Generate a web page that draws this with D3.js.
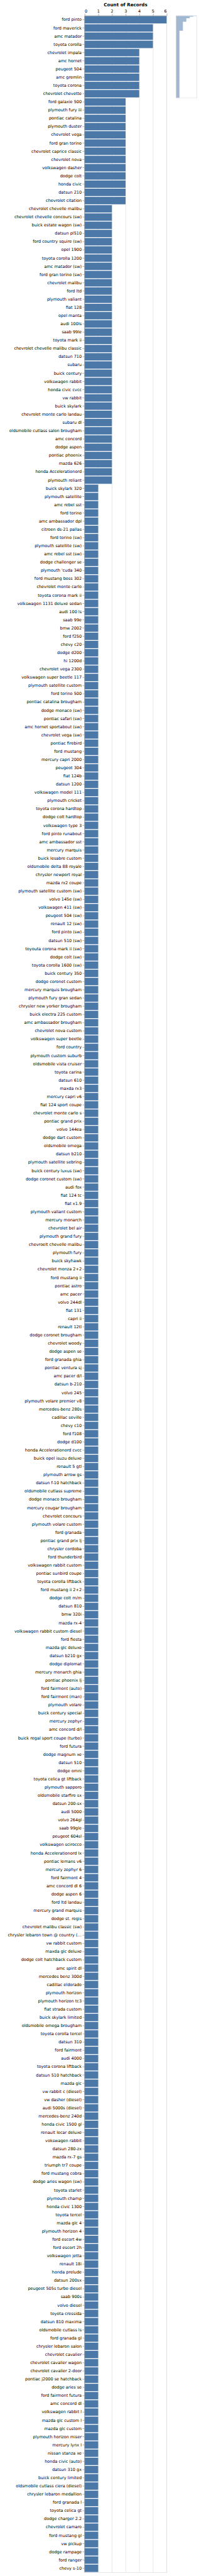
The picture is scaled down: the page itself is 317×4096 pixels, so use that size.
<!DOCTYPE html>
<html>
<head>
<meta charset="utf-8">
<script src="https://cdn.jsdelivr.net/npm/d3@7"></script>
<style>
  html, body { margin: 0; padding: 0; background: #fff; }
  svg { display: block; }
</style>
</head>
<body>
<svg id="chart" width="317" height="4096"></svg>
<script>
// ---------------- DATA ----------------
const categories = [
  "ford pinto","ford maverick","amc matador","toyota corolla","chevrolet impala","amc hornet","peugeot 504","amc gremlin","toyota corona","chevrolet chevette",
  "ford galaxie 500","plymouth fury iii","pontiac catalina","plymouth duster","chevrolet vega","ford gran torino","chevrolet caprice classic","chevrolet nova","volkswagen dasher","dodge colt",
  "honda civic","datsun 210","chevrolet citation","chevrolet chevelle malibu","chevrolet chevelle concours (sw)","buick estate wagon (sw)","datsun pl510","ford country squire (sw)","opel 1900","toyota corolla 1200",
  "amc matador (sw)","ford gran torino (sw)","chevrolet malibu","ford ltd","plymouth valiant","fiat 128","opel manta","audi 100ls","saab 99le","toyota mark ii",
  "chevrolet chevelle malibu classic","datsun 710","subaru","buick century","volkswagen rabbit","honda civic cvcc","vw rabbit","buick skylark","chevrolet monte carlo landau","subaru dl",
  "oldsmobile cutlass salon brougham","amc concord","dodge aspen","pontiac phoenix","mazda 626","honda Accelerationord","plymouth reliant","buick skylark 320","plymouth satellite","amc rebel sst",
  "ford torino","amc ambassador dpl","citroen ds-21 pallas","ford torino (sw)","plymouth satellite (sw)","amc rebel sst (sw)","dodge challenger se","plymouth 'cuda 340","ford mustang boss 302","chevrolet monte carlo",
  "toyota corona mark ii","volkswagen 1131 deluxe sedan","audi 100 ls","saab 99e","bmw 2002","ford f250","chevy c20","dodge d200","hi 1200d","chevrolet vega 2300",
  "volkswagen super beetle 117","plymouth satellite custom","ford torino 500","pontiac catalina brougham","dodge monaco (sw)","pontiac safari (sw)","amc hornet sportabout (sw)","chevrolet vega (sw)","pontiac firebird","ford mustang",
  "mercury capri 2000","peugeot 304","fiat 124b","datsun 1200","volkswagen model 111","plymouth cricket","toyota corona hardtop","dodge colt hardtop","volkswagen type 3","ford pinto runabout",
  "amc ambassador sst","mercury marquis","buick lesabre custom","oldsmobile delta 88 royale","chrysler newport royal","mazda rx2 coupe","plymouth satellite custom (sw)","volvo 145e (sw)","volkswagen 411 (sw)","peugeot 504 (sw)",
  "renault 12 (sw)","ford pinto (sw)","datsun 510 (sw)","toyouta corona mark ii (sw)","dodge colt (sw)","toyota corolla 1600 (sw)","buick century 350","dodge coronet custom","mercury marquis brougham","plymouth fury gran sedan",
  "chrysler new yorker brougham","buick electra 225 custom","amc ambassador brougham","chevrolet nova custom","volkswagen super beetle","ford country","plymouth custom suburb","oldsmobile vista cruiser","toyota carina","datsun 610",
  "maxda rx3","mercury capri v6","fiat 124 sport coupe","chevrolet monte carlo s","pontiac grand prix","volvo 144ea","dodge dart custom","oldsmobile omega","datsun b210","plymouth satellite sebring",
  "buick century luxus (sw)","dodge coronet custom (sw)","audi fox","fiat 124 tc","fiat x1.9","plymouth valiant custom","mercury monarch","chevrolet bel air","plymouth grand fury","chevroelt chevelle malibu",
  "plymouth fury","buick skyhawk","chevrolet monza 2+2","ford mustang ii","pontiac astro","amc pacer","volvo 244dl","fiat 131","capri ii","renault 12tl",
  "dodge coronet brougham","chevrolet woody","dodge aspen se","ford granada ghia","pontiac ventura sj","amc pacer d/l","datsun b-210","volvo 245","plymouth volare premier v8","mercedes-benz 280s",
  "cadillac seville","chevy c10","ford f108","dodge d100","honda Accelerationord cvcc","buick opel isuzu deluxe","renault 5 gtl","plymouth arrow gs","datsun f-10 hatchback","oldsmobile cutlass supreme",
  "dodge monaco brougham","mercury cougar brougham","chevrolet concours","plymouth volare custom","ford granada","pontiac grand prix lj","chrysler cordoba","ford thunderbird","volkswagen rabbit custom","pontiac sunbird coupe",
  "toyota corolla liftback","ford mustang ii 2+2","dodge colt m/m","datsun 810","bmw 320i","mazda rx-4","volkswagen rabbit custom diesel","ford fiesta","mazda glc deluxe","datsun b210 gx",
  "dodge diplomat","mercury monarch ghia","pontiac phoenix lj","ford fairmont (auto)","ford fairmont (man)","plymouth volare","buick century special","mercury zephyr","amc concord d/l","buick regal sport coupe (turbo)",
  "ford futura","dodge magnum xe","datsun 510","dodge omni","toyota celica gt liftback","plymouth sapporo","oldsmobile starfire sx","datsun 200-sx","audi 5000","volvo 264gl",
  "saab 99gle","peugeot 604sl","volkswagen scirocco","honda Accelerationord lx","pontiac lemans v6","mercury zephyr 6","ford fairmont 4","amc concord dl 6","dodge aspen 6","ford ltd landau",
  "mercury grand marquis","dodge st. regis","chevrolet malibu classic (sw)","chrysler lebaron town @ country (sw)","vw rabbit custom","maxda glc deluxe","dodge colt hatchback custom","amc spirit dl","mercedes benz 300d","cadillac eldorado",
  "plymouth horizon","plymouth horizon tc3","fiat strada custom","buick skylark limited","oldsmobile omega brougham","toyota corolla tercel","datsun 310","ford fairmont","audi 4000","toyota corona liftback",
  "datsun 510 hatchback","mazda glc","vw rabbit c (diesel)","vw dasher (diesel)","audi 5000s (diesel)","mercedes-benz 240d","honda civic 1500 gl","renault lecar deluxe","vokswagen rabbit","datsun 280-zx",
  "mazda rx-7 gs","triumph tr7 coupe","ford mustang cobra","dodge aries wagon (sw)","toyota starlet","plymouth champ","honda civic 1300","toyota tercel","mazda glc 4","plymouth horizon 4",
  "ford escort 4w","ford escort 2h","volkswagen jetta","renault 18i","honda prelude","datsun 200sx","peugeot 505s turbo diesel","saab 900s","volvo diesel","toyota cressida",
  "datsun 810 maxima","oldsmobile cutlass ls","ford granada gl","chrysler lebaron salon","chevrolet cavalier","chevrolet cavalier wagon","chevrolet cavalier 2-door","pontiac j2000 se hatchback","dodge aries se","ford fairmont futura",
  "amc concord dl","volkswagen rabbit l","mazda glc custom l","mazda glc custom","plymouth horizon miser","mercury lynx l","nissan stanza xe","honda civic (auto)","datsun 310 gx","buick century limited",
  "oldsmobile cutlass ciera (diesel)","chrysler lebaron medallion","ford granada l","toyota celica gt","dodge charger 2.2","chevrolet camaro","ford mustang gl","vw pickup","dodge rampage","ford ranger",
  "chevy s-10"
];

const counts = [
  6,5,5,5,4,4,4,4,4,4,
  3,3,3,3,3,3,3,3,3,3,
  3,3,3,2,2,2,2,2,2,2,
  2,2,2,2,2,2,2,2,2,2,
  2,2,2,2,2,2,2,2,2,2,
  2,2,2,2,2,2,2,1,1,1,
  1,1,1,1,1,1,1,1,1,1,
  1,1,1,1,1,1,1,1,1,1,
  1,1,1,1,1,1,1,1,1,1,
  1,1,1,1,1,1,1,1,1,1,
  1,1,1,1,1,1,1,1,1,1,
  1,1,1,1,1,1,1,1,1,1,
  1,1,1,1,1,1,1,1,1,1,
  1,1,1,1,1,1,1,1,1,1,
  1,1,1,1,1,1,1,1,1,1,
  1,1,1,1,1,1,1,1,1,1,
  1,1,1,1,1,1,1,1,1,1,
  1,1,1,1,1,1,1,1,1,1,
  1,1,1,1,1,1,1,1,1,1,
  1,1,1,1,1,1,1,1,1,1,
  1,1,1,1,1,1,1,1,1,1,
  1,1,1,1,1,1,1,1,1,1,
  1,1,1,1,1,1,1,1,1,1,
  1,1,1,1,1,1,1,1,1,1,
  1,1,1,1,1,1,1,1,1,1,
  1,1,1,1,1,1,1,1,1,1,
  1,1,1,1,1,1,1,1,1,1,
  1,1,1,1,1,1,1,1,1,1,
  1,1,1,1,1,1,1,1,1,1,
  1,1,1,1,1,1,1,1,1,1,
  1,1,1,1,1,1,1,1,1,1,
  1
];

const xTicks = [0, 1, 2, 3, 4, 5, 6];
const xTitle = "Count of Records";

// ---------------- DRAW ----------------
const S = 317 / 485;           // scale from reference to window
const FONT = "'DejaVu Sans', sans-serif";
const data = categories.map((c, i) => ({ name: c, value: counts[i] }));

const svg = d3.select("#chart");
const root = svg.append("g").attr("transform", `scale(${S})`);

// main plot geometry (reference pixels)
const X0 = 206, Y0 = 38, W = 200, H = 20 * categories.length;

const x = d3.scaleLinear().domain([0, 6]).range([0, W]);
const y = d3.scaleBand().domain(categories).range([0, H]).paddingInner(0.1).paddingOuter(0.05);

const main = root.append("g").attr("transform", `translate(${X0},${Y0})`);

// grid
main.append("g").selectAll("line").data(xTicks).join("line")
  .attr("x1", d => x(d) + 0.5).attr("x2", d => x(d) + 0.5)
  .attr("y1", 0).attr("y2", H)
  .attr("stroke", "#ddd").attr("stroke-width", 1);

// view border
main.append("rect").attr("x", 0.5).attr("y", 0.5).attr("width", W).attr("height", H)
  .attr("fill", "none").attr("stroke", "#ddd");

// bars
main.append("g").selectAll("rect").data(data).join("rect")
  .attr("x", 0)
  .attr("y", d => y(d.name))
  .attr("width", d => x(d.value))
  .attr("height", y.bandwidth())
  .attr("fill", "#4c78a8");

// x axis (top)
const xAxis = main.append("g").call(d3.axisTop(x).tickValues(xTicks).tickSize(5).tickPadding(3).tickFormat(d3.format("d")));
xAxis.select(".domain").attr("stroke", "#888").attr("d", `M0.5,0.5H${W + 0.5}`);
xAxis.selectAll(".tick line").attr("stroke", "#888").attr("transform", "translate(0.5,0)");
xAxis.selectAll(".tick text")
  .attr("font-family", FONT).attr("font-size", 10).attr("fill", "#000")
  .attr("dy", null).attr("y", -8)
  .attr("text-anchor", d => d === 0 ? "start" : (d === 6 ? "end" : "middle"));

// x title
main.append("text")
  .attr("x", W / 2).attr("y", -22)
  .attr("text-anchor", "middle")
  .attr("font-family", FONT).attr("font-size", 11).attr("font-weight", "bold")
  .attr("fill", "#000")
  .text(xTitle);

// y axis (left)
const yAxis = main.append("g").call(d3.axisLeft(y).tickSize(5).tickPadding(2));
yAxis.select(".domain").attr("stroke", "#888").attr("d", `M0.5,0V${H}`);
yAxis.selectAll(".tick line").attr("stroke", "#888");
yAxis.selectAll(".tick text")
  .attr("font-family", FONT).attr("font-size", 10).attr("fill", "#000");

// label limit (180px) with ellipsis
yAxis.selectAll(".tick text").each(function (d) {
  const t = d3.select(this);
  const limit = 180;
  if (this.getComputedTextLength() > limit) {
    let s = d;
    while (s.length > 0) {
      s = s.slice(0, -1);
      t.text(s + "…");
      if (this.getComputedTextLength() <= limit) break;
    }
  }
});

// mini overview chart
const MX0 = 429, MY0 = 38, MW = 50, MH = 200;
const mx = d3.scaleLinear().domain([0, 6]).range([0, MW]);
const my = d3.scaleBand().domain(categories).range([0, MH]).paddingInner(0.1).paddingOuter(0.05);
const mini = root.append("g").attr("transform", `translate(${MX0},${MY0})`);
mini.append("g").selectAll("rect").data(data).join("rect")
  .attr("x", 0)
  .attr("y", d => my(d.name))
  .attr("width", d => mx(d.value))
  .attr("height", my.bandwidth())
  .attr("fill", "#4c78a8").attr("fill-opacity", 0.7);
mini.append("rect").attr("x", 0.5).attr("y", 0.5).attr("width", MW).attr("height", MH)
  .attr("fill", "none").attr("stroke", "#ddd");
</script>
</body>
</html>
